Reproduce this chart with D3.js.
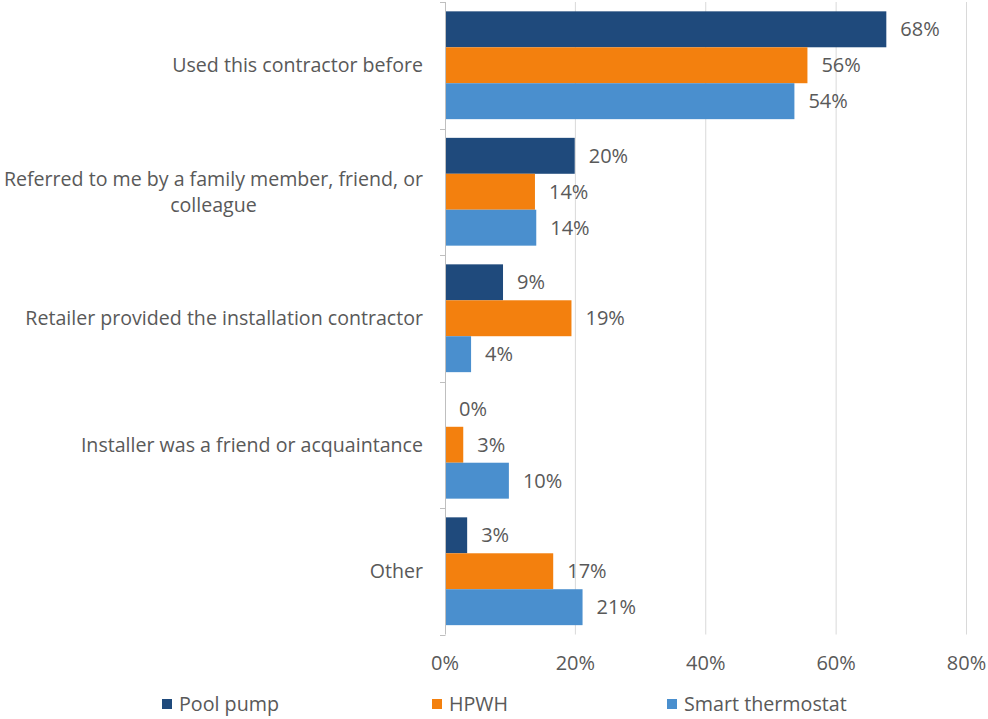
<!DOCTYPE html>
<html>
<head>
<meta charset="utf-8">
<script src="https://cdn.jsdelivr.net/npm/d3@7"></script>
<style>
  html, body { margin: 0; padding: 0; background: #fff; }
  svg { display: block; font-family: "Open Sans", "Noto Sans", sans-serif; }
</style>
</head>
<body>
<svg id="chart" width="988" height="719"></svg>
<script>
// Reasons for choosing the installation contractor, by measure
const categories = [
  ["Used this contractor before"],
  ["Referred to me by a family member, friend, or", "colleague"],
  ["Retailer provided the installation contractor"],
  ["Installer was a friend or acquaintance"],
  ["Other"]
];
const seriesNames = ["Pool pump", "HPWH", "Smart thermostat"];
const seriesColors = ["#1F4A7C", "#F3800E", "#4A8FCE"];
const poolPump = [67.7, 19.9, 8.9, 0, 3.4];
const hpwh = [55.6, 13.8, 19.4, 2.8, 16.6];
const smartThermostat = [53.6, 14.0, 4.0, 9.8, 21.1];
const xTicks = [0, 20, 40, 60, 80];

const seriesValues = [poolPump, hpwh, smartThermostat];

const svg = d3.select("#chart");
const textColor = "#595959";

const x = d3.scaleLinear().domain([0, 80]).range([445, 966.5]);
const y = d3.scaleBand().domain(d3.range(categories.length)).range([2, 634.5]).paddingInner(0).paddingOuter(0);
const ySub = d3.scaleBand().domain(d3.range(seriesNames.length)).range([0, y.bandwidth()]).paddingInner(0).paddingOuter(0.26);

// vertical gridlines
svg.append("g")
  .selectAll("line")
  .data(xTicks.slice(1))
  .join("line")
  .attr("x1", d => x(d)).attr("x2", d => x(d))
  .attr("y1", 2).attr("y2", 634.5)
  .attr("stroke", "#D9D9D9").attr("stroke-width", 1);

// bars
const groups = svg.append("g")
  .selectAll("g")
  .data(categories.map((c, i) => i))
  .join("g")
  .attr("transform", i => `translate(0,${y(i)})`);

groups.selectAll("rect")
  .data(i => seriesValues.map((vals, s) => ({ s, v: vals[i] })))
  .join("rect")
  .attr("x", x(0))
  .attr("y", d => ySub(d.s))
  .attr("width", d => x(d.v) - x(0))
  .attr("height", ySub.bandwidth())
  .attr("fill", d => seriesColors[d.s]);

// value labels
groups.selectAll("text")
  .data(i => seriesValues.map((vals, s) => ({ s, v: vals[i] })))
  .join("text")
  .attr("x", d => x(d.v) + 14)
  .attr("y", d => ySub(d.s) + ySub.bandwidth() / 2)
  .attr("dy", "0.35em")
  .attr("fill", textColor)
  .attr("font-size", 20)
  .text(d => Math.round(d.v) + "%");

// category axis line with tick marks at band edges
const axisG = svg.append("g").attr("stroke", "#BFBFBF").attr("stroke-width", 1);
axisG.append("line")
  .attr("x1", 445.5).attr("x2", 445.5)
  .attr("y1", 2).attr("y2", 634.5);
axisG.selectAll("line.tick")
  .data(d3.range(categories.length + 1))
  .join("line")
  .attr("class", "tick")
  .attr("x1", 440).attr("x2", 445.5)
  .attr("y1", i => Math.round(2 + i * y.bandwidth()) + 0.5)
  .attr("y2", i => Math.round(2 + i * y.bandwidth()) + 0.5);

// category labels: block right-aligned, lines centred within the block
const labelRight = 423;
const lineHeight = 26;
const catLabels = svg.append("g")
  .attr("fill", textColor)
  .attr("font-size", 19.6);
categories.forEach((lines, i) => {
  const g = catLabels.append("g");
  const cy = y(i) + y.bandwidth() / 2;
  const texts = lines.map((ln, k) => g.append("text")
    .attr("y", cy + (k - (lines.length - 1) / 2) * lineHeight)
    .attr("dy", "0.35em")
    .attr("text-anchor", "middle")
    .text(ln));
  const w = d3.max(texts, t => t.node().getComputedTextLength());
  texts.forEach(t => t.attr("x", labelRight - w / 2));
});

// x axis tick labels
svg.append("g")
  .selectAll("text")
  .data(xTicks)
  .join("text")
  .attr("x", d => x(d))
  .attr("y", 663)
  .attr("dy", "0.35em")
  .attr("text-anchor", "middle")
  .attr("fill", textColor)
  .attr("font-size", 20)
  .text(d => d + "%");

// legend
const legendX = [162, 432, 667];
const legend = svg.append("g")
  .selectAll("g")
  .data(seriesNames)
  .join("g")
  .attr("transform", (d, i) => `translate(${legendX[i]},704)`);
legend.append("rect")
  .attr("x", 0).attr("y", -5)
  .attr("width", 10).attr("height", 10)
  .attr("fill", (d, i) => seriesColors[i]);
legend.append("text")
  .attr("x", 17)
  .attr("dy", "0.35em")
  .attr("fill", textColor)
  .attr("font-size", 19.7)
  .text(d => d);
</script>
</body>
</html>
